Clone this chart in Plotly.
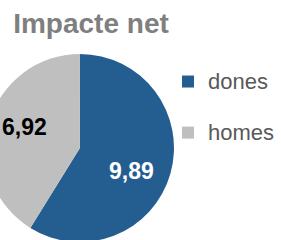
import plotly.graph_objects as go

labels = ["dones", "homes"]
values = [9.89, 6.92]
colors = ["#245E91", "#BFBFBF"]
text_colors = ["#FFFFFF", "#000000"]
title_text = "Impacte net"

W, H = 300, 260
SHIFT = 20

# label centres in figure pixels (styling only)
label_pos = [(156.7, 171.3), (46.3, 126.7)]

legend_names = ["<span style='font-size:22px'>%s</span><br> " % l for l in labels]

fig = go.Figure(go.Pie(
    labels=legend_names,
    values=values,
    sort=False,
    direction="clockwise",
    rotation=0,
    marker=dict(colors=colors, line=dict(width=0)),
    textinfo="none",
    domain=dict(x=[6 / W, 200 / W], y=[1 - 245 / H, 1 - 51 / H]),
    hoverinfo="none",
))

for v, c, (px, py) in zip(values, text_colors, label_pos):
    fig.add_annotation(
        text=("%.2f" % v).replace(".", ","),
        x=px / W, y=1 - py / H, xref="paper", yref="paper",
        xanchor="center", yanchor="middle", showarrow=False,
        font=dict(family="Liberation Sans, Arial", size=23, color=c, weight="bold"),
    )

fig.update_layout(
    width=W, height=H,
    margin=dict(l=0, r=0, t=0, b=0),
    separators=", ",
    paper_bgcolor="white",
    title=dict(text=title_text, x=111 / W, xanchor="center", y=1 - 23 / H, yanchor="middle",
               yref="container", xref="container",
               font=dict(family="Liberation Sans, Arial", size=28, color="#7F7F7F", weight="bold")),
    legend=dict(x=194 / W, y=1 - 63 / H, xanchor="left", yanchor="top",
                font=dict(family="Liberation Sans, Arial", size=18.5, color="#595959"),
                bgcolor="rgba(0,0,0,0)", borderwidth=0, valign="top"),
    showlegend=True,
)

post = ("document.body.style.margin='0';document.body.style.overflow='hidden';"
        "var d=document.getElementById('{plot_id}');d.style.position='absolute';"
        "d.style.left='-%dpx';d.style.top='0px';" % SHIFT)
fig.write_html("out.html", post_script=post, config={"displayModeBar": False})
